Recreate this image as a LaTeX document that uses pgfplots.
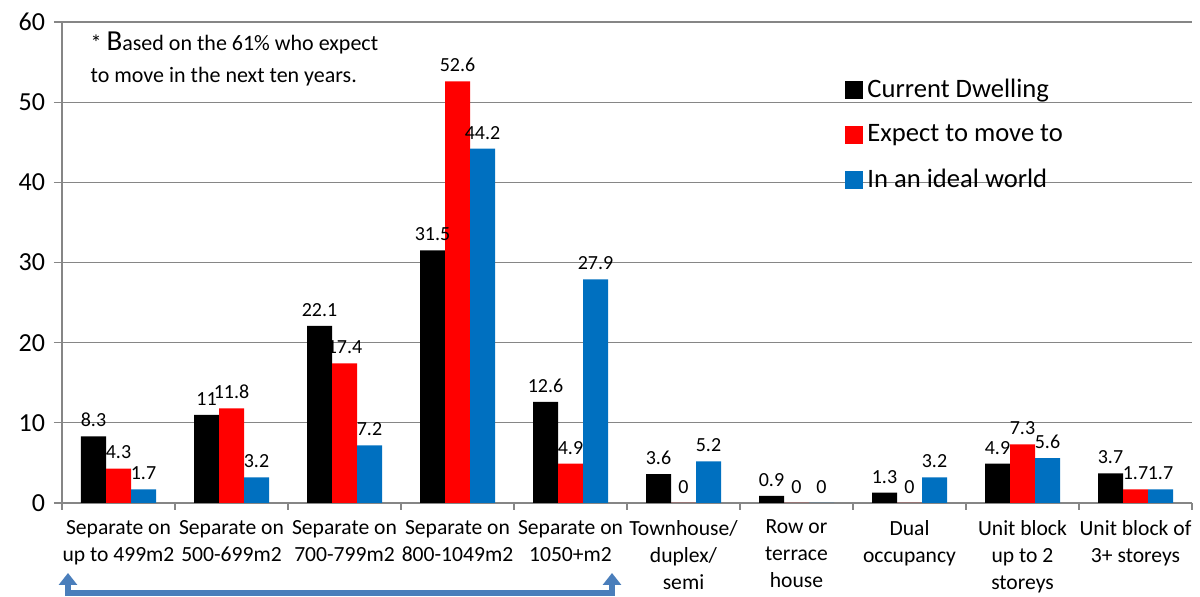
\documentclass[border=0pt]{standalone}
\usepackage{pgfplots}
\pgfplotsset{compat=1.18}
\usepackage{fontspec}
\setmainfont{Carlito}
\usetikzlibrary{arrows.meta}
\definecolor{cblue}{RGB}{0,112,192}
\definecolor{arrowblue}{RGB}{74,126,187}
\definecolor{gridgray}{RGB}{134,134,134}

\begin{document}
\begin{tikzpicture}
\useasboundingbox (-31pt,-47pt) rectangle (569pt,251.5pt);
\begin{axis}[
    at={(0,0)}, anchor=south west,
    scale only axis, width=565pt, height=240.5pt,
    ybar=0pt, bar width=12.5pt,
    xmin=-0.5, xmax=9.5, ymin=0, ymax=60,
    ytick={0,10,...,60},
    xtick={0,...,9},
    xticklabels={
        {Separate on\\up to 499m2},
        {Separate on\\500-699m2},
        {Separate on\\700-799m2},
        {Separate on\\800-1049m2},
        {Separate on\\1050+m2},
        {Townhouse/\\duplex/\\semi},
        {Row or\\terrace\\house},
        {Dual\\occupancy},
        {Unit block\\up to 2\\storeys},
        {Unit block of\\3+ storeys}},
    minor xtick={-0.5,0.5,...,9.5},
    major x tick style={draw=none},
    tick align=outside,
    major tick length=4pt, minor tick length=3.5pt,
    axis x line*=bottom, axis y line*=left,
    axis line style={draw=gridgray, line width=0.6pt},
    tick style={draw=gridgray, line width=0.6pt},
    ymajorgrids, grid style={draw=gridgray, line width=0.6pt},
    xticklabel style={align=center, font=\fontsize{10.8}{13.5}\selectfont, yshift=-1pt},
    yticklabel style={font=\fontsize{13}{14}\selectfont, xshift=-1pt},
    /pgf/number format/assume math mode=true,
    nodes near coords,
    every node near coord/.append style={font=\fontsize{10}{11}\selectfont, text=black, yshift=3pt, inner sep=1.5pt},
    legend image code/.code={\fill[#1] (0pt,-4.5pt) rectangle (9pt,4.5pt);},
    legend style={at={(0.693,0.89)}, anchor=north west, draw=none, fill=none,
        inner sep=0pt, row sep=8pt, font=\fontsize{13.3}{16}\selectfont,
        /tikz/every even column/.append style={column sep=0pt}},
    legend cell align=left,
]
\addplot[fill=black, draw=none] coordinates {
    (0,8.3) (1,11) (2,22.1) (3,31.5) (4,12.6) (5,3.6) (6,0.9) (7,1.3) (8,4.9) (9,3.7)};
\addlegendentry{Current Dwelling}
\addplot[fill=red, draw=none] coordinates {
    (0,4.3) (1,11.8) (2,17.4) (3,52.6) (4,4.9) (5,0) (6,0) (7,0) (8,7.3) (9,1.7)};
\addlegendentry{Expect to move to}
\addplot[fill=cblue, draw=none] coordinates {
    (0,1.7) (1,3.2) (2,7.2) (3,44.2) (4,27.9) (5,5.2) (6,0) (7,3.2) (8,5.6) (9,1.7)};
\addlegendentry{In an ideal world}

\node[anchor=north west, align=left, font=\fontsize{11}{16}\selectfont, inner sep=0pt]
    at (rel axis cs:0.025,0.98)
    {* {\fontsize{14.5}{16}\selectfont B}ased on the 61\% who expect\\to move in the next ten years.};
\end{axis}
\draw[arrowblue, line width=3pt, {Triangle[length=6pt,width=9pt]}-{Triangle[length=6pt,width=9pt]}]
    (3pt,-35pt) -- (3pt,-45pt) -- (275pt,-45pt) -- (275pt,-35pt);
\end{tikzpicture}
\end{document}
